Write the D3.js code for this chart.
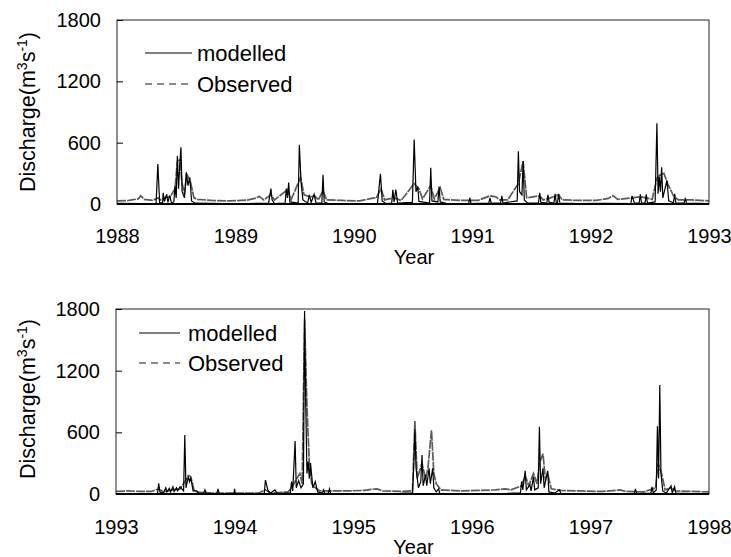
<!DOCTYPE html>
<html><head><meta charset="utf-8">
<script src="https://cdn.jsdelivr.net/npm/d3@7"></script>
<style>body{margin:0;background:#fff}svg{display:block}text{font-family:"Liberation Sans",Arial,sans-serif}</style>
</head><body>
<svg id="c" width="731" height="557"></svg>
<script>
// ---- data (decimal year, discharge m3/s) ----
const yTicks = [0, 600, 1200, 1800];
const xTicksTop = [1988, 1989, 1990, 1991, 1992, 1993];
const xTicksBottom = [1993, 1994, 1995, 1996, 1997, 1998];

const modelledTop = [
[1988.00,6],[1988.20,4],[1988.33,4],[1988.345,390],[1988.36,15],[1988.385,8],[1988.39,110],[1988.40,25],[1988.42,95],[1988.43,15],
[1988.445,85],[1988.46,10],[1988.48,20],[1988.49,175],[1988.50,60],[1988.51,470],[1988.52,150],[1988.53,380],[1988.54,555],[1988.55,120],
[1988.57,60],[1988.585,310],[1988.60,180],[1988.615,260],[1988.63,30],[1988.66,8],[1988.90,4],[1989.10,5],[1989.28,6],[1989.30,150],
[1989.31,40],[1989.33,5],[1989.42,8],[1989.43,150],[1989.44,60],[1989.45,210],[1989.46,20],[1989.53,10],[1989.54,580],[1989.555,210],
[1989.57,40],[1989.61,10],[1989.625,90],[1989.64,15],[1989.665,95],[1989.68,12],[1989.73,8],[1989.74,285],[1989.75,20],[1989.78,6],
[1990.00,5],[1990.20,6],[1990.225,295],[1990.24,30],[1990.27,5],[1990.32,8],[1990.33,140],[1990.34,20],[1990.355,140],[1990.37,10],
[1990.495,15],[1990.51,630],[1990.525,120],[1990.54,170],[1990.55,25],[1990.64,10],[1990.65,355],[1990.66,30],[1990.71,20],[1990.72,170],
[1990.73,20],[1990.78,6],[1990.97,5],[1990.98,60],[1990.99,5],[1991.14,8],[1991.15,60],[1991.16,10],[1991.24,10],[1991.25,80],
[1991.26,10],[1991.38,30],[1991.39,515],[1991.40,120],[1991.42,90],[1991.43,420],[1991.44,40],[1991.47,8],[1991.56,10],[1991.57,110],
[1991.58,15],[1991.63,10],[1991.64,90],[1991.65,15],[1991.69,10],[1991.70,100],[1991.71,15],[1991.72,10],[1991.73,100],[1991.74,10],
[1991.90,5],[1992.10,6],[1992.34,5],[1992.35,80],[1992.37,10],[1992.41,10],[1992.42,95],[1992.43,10],[1992.46,12],[1992.47,95],
[1992.48,10],[1992.545,20],[1992.56,790],[1992.57,100],[1992.58,265],[1992.59,120],[1992.60,360],[1992.61,60],[1992.645,230],[1992.66,30],
[1992.70,12],[1992.71,100],[1992.72,10],[1992.79,8],[1992.80,60],[1992.81,8],[1993.00,5]
];
const observedTop = [
[1988.00,30],[1988.10,35],[1988.18,50],[1988.20,80],[1988.23,45],[1988.30,35],[1988.345,60],[1988.37,40],[1988.40,60],[1988.45,70],
[1988.49,150],[1988.51,420],[1988.53,430],[1988.55,200],[1988.57,100],[1988.59,290],[1988.62,220],[1988.65,60],[1988.68,45],[1988.80,35],
[1988.95,30],[1989.10,38],[1989.18,60],[1989.20,75],[1989.24,40],[1989.30,90],[1989.33,40],[1989.44,140],[1989.47,40],[1989.55,260],
[1989.58,90],[1989.63,70],[1989.67,80],[1989.70,40],[1989.74,130],[1989.77,40],[1989.90,35],[1990.05,30],[1990.15,55],[1990.19,60],
[1990.23,150],[1990.26,40],[1990.34,60],[1990.40,35],[1990.51,200],[1990.55,150],[1990.58,50],[1990.65,180],[1990.68,50],[1990.73,160],
[1990.76,45],[1990.90,35],[1991.05,35],[1991.15,80],[1991.20,70],[1991.23,40],[1991.30,40],[1991.39,200],[1991.43,420],[1991.46,60],
[1991.57,80],[1991.60,40],[1991.66,60],[1991.73,90],[1991.76,40],[1991.90,35],[1992.05,35],[1992.15,55],[1992.19,80],[1992.23,45],
[1992.35,60],[1992.42,70],[1992.47,60],[1992.52,45],[1992.56,250],[1992.58,280],[1992.62,300],[1992.65,200],[1992.70,80],[1992.74,40],
[1992.85,40],[1993.00,30]
];
const modelledBottom = [
[1993.00,5],[1993.20,4],[1993.35,5],[1993.36,105],[1993.37,20],[1993.40,10],[1993.42,60],[1993.43,20],[1993.45,55],[1993.46,20],
[1993.48,70],[1993.49,25],[1993.51,60],[1993.52,30],[1993.54,70],[1993.57,30],[1993.58,575],[1993.59,60],[1993.61,170],[1993.62,120],
[1993.63,160],[1993.65,30],[1993.68,30],[1993.70,5],[1993.74,8],[1993.75,40],[1993.76,5],[1993.85,5],[1993.86,50],[1993.87,5],
[1993.995,3],[1994.00,50],[1994.005,3],[1994.25,5],[1994.26,135],[1994.28,40],[1994.30,8],[1994.34,40],[1994.36,5],[1994.47,10],
[1994.48,120],[1994.49,30],[1994.51,515],[1994.52,60],[1994.54,130],[1994.56,60],[1994.58,100],[1994.59,1780],[1994.60,865],[1994.61,200],
[1994.62,315],[1994.63,150],[1994.64,300],[1994.66,60],[1994.68,120],[1994.70,20],[1994.74,8],[1994.75,40],[1994.76,5],[1994.79,8],
[1994.80,50],[1994.81,5],[1995.10,5],[1995.40,6],[1995.50,10],[1995.51,250],[1995.52,630],[1995.53,250],[1995.55,60],[1995.57,120],
[1995.58,380],[1995.59,80],[1995.61,185],[1995.62,80],[1995.64,250],[1995.65,100],[1995.67,250],[1995.68,60],[1995.70,20],[1995.72,50],
[1995.73,5],[1996.00,5],[1996.30,6],[1996.41,10],[1996.42,120],[1996.43,40],[1996.45,225],[1996.46,40],[1996.49,90],[1996.50,30],
[1996.52,170],[1996.53,40],[1996.56,60],[1996.57,655],[1996.58,100],[1996.60,250],[1996.61,60],[1996.64,225],[1996.65,20],[1996.70,10],
[1996.74,40],[1996.75,5],[1997.00,5],[1997.37,5],[1997.38,50],[1997.39,5],[1997.51,8],[1997.52,70],[1997.53,10],[1997.555,40],
[1997.565,660],[1997.575,150],[1997.585,1060],[1997.595,200],[1997.61,30],[1997.64,8],[1997.68,80],[1997.69,10],[1997.71,70],[1997.72,8],
[1997.85,5],[1998.00,5]
];
const observedBottom = [
[1993.00,25],[1993.10,30],[1993.20,25],[1993.30,25],[1993.36,50],[1993.40,20],[1993.48,40],[1993.54,50],[1993.58,120],[1993.61,180],
[1993.63,170],[1993.66,30],[1993.70,15],[1993.80,10],[1994.00,8],[1994.20,8],[1994.26,40],[1994.30,10],[1994.45,20],[1994.48,60],
[1994.51,120],[1994.55,200],[1994.57,100],[1994.59,1700],[1994.61,850],[1994.63,300],[1994.65,100],[1994.68,60],[1994.72,30],[1994.80,30],
[1994.95,30],[1995.10,35],[1995.15,45],[1995.20,50],[1995.25,30],[1995.40,25],[1995.50,30],[1995.52,710],[1995.54,150],[1995.58,300],
[1995.61,150],[1995.63,250],[1995.66,620],[1995.68,200],[1995.70,100],[1995.74,40],[1995.90,30],[1996.05,35],[1996.20,40],[1996.28,50],
[1996.33,40],[1996.42,80],[1996.45,180],[1996.48,80],[1996.52,200],[1996.55,100],[1996.57,300],[1996.60,390],[1996.62,150],[1996.64,200],
[1996.67,50],[1996.75,35],[1996.90,30],[1997.10,25],[1997.22,35],[1997.25,40],[1997.30,25],[1997.45,20],[1997.55,60],[1997.57,300],
[1997.60,200],[1997.63,40],[1997.68,60],[1997.72,30],[1997.85,25],[1998.00,20]
];

// ---- drawing ----
const svg = d3.select("#c");
const FONT = "Liberation Sans, Arial, sans-serif";
const panels = [
  {x0:117, x1:709, yTop:20, yBot:204, domain:[1988,1993], ticks:xTicksTop, mod:modelledTop, obs:observedTop,
   tickLblY:236, yearY:257, ylabCY:112, leg:{x0:145, x1:192, tx:197, y1:53, y2:84}},
  {x0:116, x1:709, yTop:309, yBot:494, domain:[1993,1998], ticks:xTicksBottom, mod:modelledBottom, obs:observedBottom,
   tickLblY:527, yearY:547, ylabCY:399, leg:{x0:139, x1:180, tx:188, y1:333, y2:363}}
];

panels.forEach(p => {
  const x = d3.scaleLinear().domain(p.domain).range([p.x0, p.x1]);
  const y = d3.scaleLinear().domain([0, 1800]).range([p.yBot, p.yTop]);
  const g = svg.append("g");
  const clipId = "clip" + p.domain[0];
  svg.append("clipPath").attr("id", clipId).append("rect")
    .attr("x", p.x0).attr("y", p.yTop - 2).attr("width", p.x1 - p.x0).attr("height", p.yBot - p.yTop + 2);

  const line = d3.line().x(d => x(d[0])).y(d => y(d[1]));
  g.append("path").datum(p.obs).attr("d", line).attr("clip-path", `url(#${clipId})`)
    .attr("fill", "none").attr("stroke", "#5a5a5a").attr("stroke-width", 1.7).attr("stroke-dasharray", "9,1");
  g.append("path").datum(p.mod).attr("d", line).attr("clip-path", `url(#${clipId})`)
    .attr("fill", "none").attr("stroke", "#000").attr("stroke-width", 1.2);

  // frame
  g.append("rect").attr("x", p.x0).attr("y", p.yTop).attr("width", p.x1 - p.x0).attr("height", p.yBot - p.yTop)
    .attr("fill", "none").attr("stroke", "#222").attr("stroke-width", 1);
  g.append("line").attr("x1", p.x0).attr("x2", p.x1).attr("y1", p.yBot).attr("y2", p.yBot)
    .attr("stroke", "#000").attr("stroke-width", 2);

  // y axis (ticks inward)
  const ya = d3.axisLeft(y).tickValues(yTicks).tickSize(-6).tickPadding(16).tickFormat(d3.format("d"));
  const yg = g.append("g").attr("transform", `translate(${p.x0},0)`).call(ya);
  yg.select(".domain").remove();
  yg.selectAll("line").attr("stroke", "#000");
  yg.selectAll("text").attr("font-size", 20).attr("fill", "#000").attr("font-family", FONT);

  // x axis
  const xa = d3.axisBottom(x).tickValues(p.ticks).tickSize(0).tickPadding(0).tickFormat(d3.format("d"));
  const xg = g.append("g").attr("transform", `translate(0,${p.tickLblY})`).call(xa);
  xg.select(".domain").remove();
  xg.selectAll("text").attr("font-size", 20).attr("fill", "#000").attr("dy", "0.35em").attr("font-family", FONT);

  g.append("text").attr("x", (p.x0 + p.x1) / 2 + 1).attr("y", p.yearY).attr("dy", "0.35em")
    .attr("text-anchor", "middle").attr("font-size", 20).text("Year");

  const yl = g.append("text").attr("transform", `translate(27,${p.ylabCY}) rotate(-90)`)
    .attr("text-anchor", "middle").attr("dy", "0.35em").attr("font-size", 21.5);
  yl.append("tspan").text("Discharge(m");
  yl.append("tspan").attr("baseline-shift", "super").attr("font-size", 14).text("3");
  yl.append("tspan").text("s");
  yl.append("tspan").attr("baseline-shift", "super").attr("font-size", 14).text("-1");
  yl.append("tspan").text(")");

  // legend
  const L = p.leg;
  g.append("line").attr("x1", L.x0).attr("x2", L.x1).attr("y1", L.y1).attr("y2", L.y1).attr("stroke", "#000").attr("stroke-width", 1.2);
  g.append("text").attr("x", L.tx).attr("y", L.y1).attr("dy", "0.35em").attr("font-size", 22).text("modelled");
  g.append("line").attr("x1", L.x0).attr("x2", L.x1).attr("y1", L.y2).attr("y2", L.y2).attr("stroke", "#666")
    .attr("stroke-width", 1.4).attr("stroke-dasharray", "7,5");
  g.append("text").attr("x", L.tx).attr("y", L.y2).attr("dy", "0.35em").attr("font-size", 22).text("Observed");
});
</script>
</body></html>
